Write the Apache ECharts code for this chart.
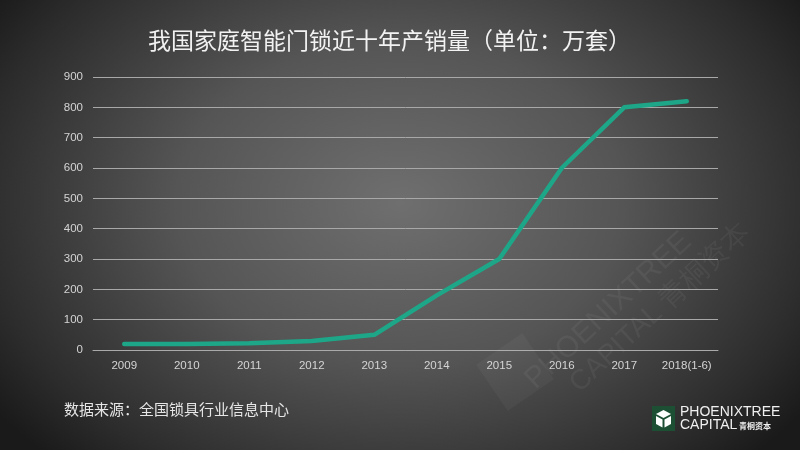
<!DOCTYPE html>
<html>
<head>
<meta charset="utf-8">
<script src="https://cdn.jsdelivr.net/npm/echarts@6/dist/echarts.min.js"></script>
<style>
html,body{margin:0;padding:0;background:#222;}
#c{width:800px;height:450px;background:radial-gradient(ellipse 62% 80% at 50% 45%, #6f6f6f 0%, #555555 45%, #2c2c2c 85%, #1a1a1a 100%);}
</style>
</head>
<body>
<div id="c"></div>
<script>
const categories = ['2009','2010','2011','2012','2013','2014','2015','2016','2017','2018(1-6)'];
const values = [20, 20, 22, 30, 50, 180, 300, 600, 800, 820];
const yTicks = [0,100,200,300,400,500,600,700,800,900];
const titleText = '我国家庭智能门锁近十年产销量（单位：万套）';
const sourceText = '数据来源：全国锁具行业信息中心';

const chart = echarts.init(document.getElementById('c'), null, {renderer:'canvas'});
const font = '"Noto Sans CJK SC", "Microsoft YaHei", sans-serif';
const latin = 'Arial, "Liberation Sans", sans-serif';
chart.setOption({
  backgroundColor: 'transparent',
  animation: false,
  title: {
    text: titleText,
    left: 143, top: 24,
    textStyle: {color:'#f2f2f2', fontSize: 23, fontWeight: 'normal', fontFamily: font}
  },
  grid: {left: 93, right: 82, top: 77, bottom: 100},
  xAxis: {
    type: 'category',
    data: categories,
    boundaryGap: true,
    axisLine: {show: true, lineStyle: {color:'#aaaaaa', width: 1}},
    axisTick: {show: false},
    axisLabel: {interval: 0, hideOverlap: false, color:'#d4d4d4', fontSize: 11.5, margin: 10, fontFamily: latin}
  },
  yAxis: {
    type: 'value',
    min: yTicks[0], max: yTicks[yTicks.length-1], interval: 100,
    axisLine: {show:false},
    axisTick: {show:false},
    splitLine: {lineStyle: {color:'#a8a8a8', width: 1}},
    axisLabel: {color:'#d4d4d4', fontSize: 11.5, margin: 10, fontFamily: latin}
  },
  series: [{
    type: 'line',
    data: values,
    symbol: 'none',
    z: 5,
    lineStyle: {color:'#1da788', width: 4.5, cap:'round', join:'round'},
    itemStyle: {color:'#1da788'}
  }],
  graphic: [
    {
      type:'group', x: 540, y: 395, rotation: 0.75, silent: true, z: 1,
      children: [
        {type:'text', x: 0, y: 0, style:{text:'PHOENIXTREE', fill:'rgba(255,255,255,0.05)', font:'30px ' + latin, textVerticalAlign:'bottom'}},
        {type:'text', x: 30, y: 32, style:{text:'CAPITAL 青桐资本', fill:'rgba(255,255,255,0.05)', font:'28px ' + latin, textVerticalAlign:'bottom'}}
      ]
    },
    {
      type:'rect', x: 515, y: 372, rotation: 0.6, silent: true, z: 1,
      shape:{x:-28,y:-28,width:56,height:56}, style:{fill:'rgba(255,255,255,0.035)'}
    },
    {
      type:'text', left: 64, top: 402,
      style: {text: sourceText, fill:'#e6e6e6', font: '15px ' + font}
    },
    {
      type:'group', left: 652, top: 405,
      children: [
        {type:'rect', shape:{x:0,y:0,width:23,height:25}, style:{fill:'#1d4f34'}},
        {type:'polygon', shape:{points:[[4,8],[11.5,4],[19,8],[11.5,12]]}, style:{fill:'#ffffff'}},
        {type:'polygon', shape:{points:[[4,10],[10.5,13.5],[10.5,21.5],[4,18]]}, style:{fill:'#ffffff'}},
        {type:'polygon', shape:{points:[[19,10],[12.5,13.5],[12.5,21.5],[19,18]]}, style:{fill:'#ffffff'}},
        {type:'text', x: 28, y: -1, style:{text:'PHOENIXTREE', fill:'#f0f0f0', font:'14px ' + latin}},
        {type:'text', x: 28, y: 12, style:{text:'CAPITAL', fill:'#f0f0f0', font:'14px ' + latin}},
        {type:'text', x: 87, y: 16, style:{text:'青桐资本', fill:'#f0f0f0', font:'bold 8px ' + font}}
      ]
    }
  ]
});
</script>
</body>
</html>
